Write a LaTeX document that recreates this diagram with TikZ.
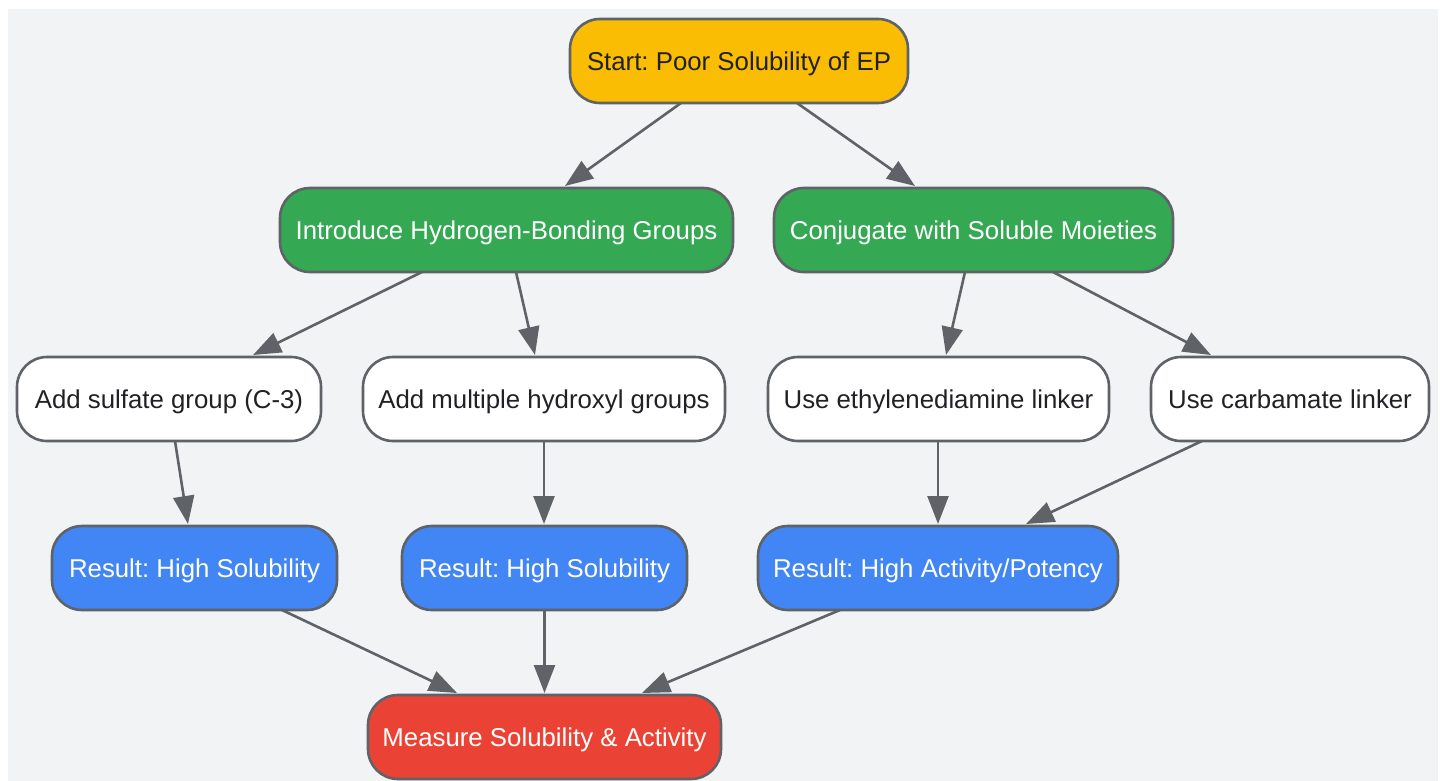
\documentclass[tikz,border=0pt]{standalone}
\usepackage{fontspec}
\setmainfont{Liberation Sans}
\usetikzlibrary{arrows.meta}
\definecolor{bgc}{HTML}{F1F3F5}
\definecolor{linec}{HTML}{5F6368}
\definecolor{yellowc}{HTML}{FBBC04}
\definecolor{greenc}{HTML}{34A853}
\definecolor{bluec}{HTML}{4285F4}
\definecolor{redc}{HTML}{EA4335}
\definecolor{inkc}{HTML}{202124}
\def\px{0.75pt}
\tikzset{
  box/.style={draw=linec,line width=2.6*\px,rounded corners=30*\px,outer sep=0pt,inner sep=0pt,
    minimum height=84*\px,font=\fontsize{19.35pt}{23pt}\selectfont\frenchspacing,text height=16.8pt,text depth=3pt,align=center},
  lightbox/.style={box,fill=white,text=inkc},
  startbox/.style={box,fill=yellowc,text=inkc},
  greenbox/.style={box,fill=greenc,text=white},
  bluebox/.style={box,fill=bluec,text=white},
  redbox/.style={box,fill=redc,text=white},
  edge/.style={draw=linec,line width=2.6*\px,-{Triangle[length=28*\px,width=21*\px]}}
}
\begin{document}
\begin{tikzpicture}[x=0.75pt,y=-0.75pt]
\useasboundingbox (0,0) rectangle (1442,781);
\fill[bgc] (8,9) rectangle (1438,781);
\node[startbox,minimum width=338*\px] (start) at (739,61) {Start: Poor Solubility of EP};
\node[greenbox,minimum width=453*\px] (hb) at (506.5,230) {Introduce Hydrogen-Bonding Groups};
\node[greenbox,minimum width=399*\px] (conj) at (973.5,230) {Conjugate with Soluble Moieties};
\node[lightbox,minimum width=304*\px] (sulf) at (169,399) {Add sulfate group (C-3)};
\node[lightbox,minimum width=362*\px] (hydro) at (544,399) {Add multiple hydroxyl groups};
\node[lightbox,minimum width=341*\px] (ethy) at (938.5,399) {Use ethylenediamine linker};
\node[lightbox,minimum width=278*\px] (carb) at (1290,399) {Use carbamate linker};
\node[bluebox,minimum width=285*\px] (res1) at (194.5,568) {Result: High Solubility};
\node[bluebox,minimum width=285*\px] (res2) at (544.5,568) {Result: High Solubility};
\node[bluebox,minimum width=360*\px] (res3) at (938,568) {Result: High Activity/Potency};
\node[redbox,minimum width=353*\px] (meas) at (544.5,737) {Measure Solubility \& Activity};
\newcommand{\lnk}[4]{\draw[edge] ([xshift=#2*\px]#1.south) -- ([xshift=#4*\px,yshift=2*\px]#3.north);}
\lnk{start}{-58}{hb}{58.5}
\lnk{start}{58}{conj}{-58.5}
\lnk{hb}{-84.5}{sulf}{84}
\lnk{hb}{9.5}{hydro}{-9}
\lnk{conj}{-8.5}{ethy}{7.5}
\lnk{conj}{79.5}{carb}{-79}
\lnk{sulf}{6}{res1}{-6.5}
\lnk{hydro}{0}{res2}{-0.5}
\lnk{ethy}{-0.5}{res3}{0}
\lnk{carb}{-88}{res3}{88}
\lnk{res1}{87.5}{meas}{-87.5}
\lnk{res2}{0}{meas}{0}
\lnk{res3}{-98}{meas}{97.5}
\end{tikzpicture}
\end{document}
